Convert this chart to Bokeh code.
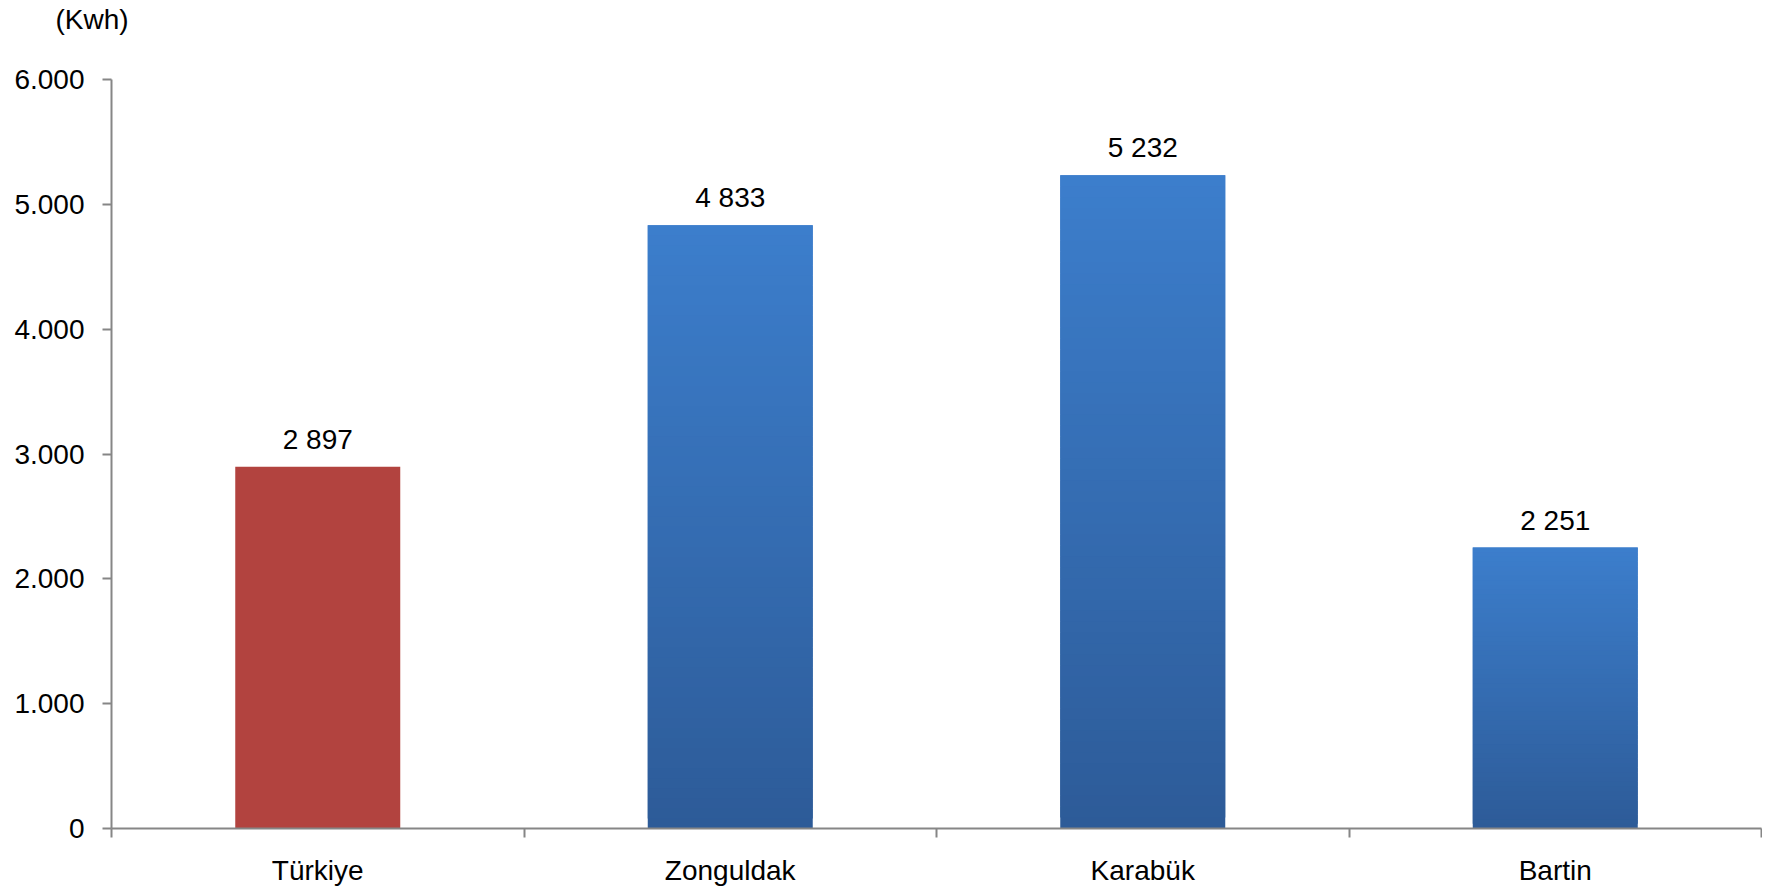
from bokeh.plotting import figure
from bokeh.models import ColumnDataSource, LabelSet, FixedTicker, Range1d, LinearAxis
from bokeh.core.properties import value
from bokeh.embed import file_html
from bokeh.resources import INLINE

categories = ["Türkiye", "Zonguldak", "Karabük", "Bartin"]
values = [2897, 4833, 5232, 2251]
value_labels = ["2 897", "4 833", "5 232", "2 251"]
bar_kind = ["red", "blue", "blue", "blue"]
y_ticks = [0, 1000, 2000, 3000, 4000, 5000, 6000]
y_tick_labels = ["0", "1.000", "2.000", "3.000", "4.000", "5.000", "6.000"]
unit_label = "(Kwh)"

FONT = "Liberation Sans"
RED = "#B2433F"
BLUE_TOP = (0x3C, 0x7E, 0xCC)
BLUE_BOT = (0x2D, 0x5B, 0x98)
AXIS = "#868686"

n = len(categories)
xs = [i + 0.5 for i in range(n)]

p = figure(width=1762, height=888, output_backend="svg", toolbar_location=None,
           x_range=Range1d(0, n), y_range=Range1d(0, 6000),
           min_border_left=111, min_border_right=1, min_border_top=79, min_border_bottom=60,
           title=unit_label)
p.outline_line_color = None
p.xgrid.visible = False
p.ygrid.visible = False
p.title.text_font = FONT
p.title.text_font_size = "28px"
p.title.text_font_style = "normal"
p.title.text_color = "#000000"
p.title.align = "left"
p.title.vertical_align = "bottom"
p.title.offset = -56
p.title.standoff = 0

# invisible spacer axis above the frame (one white tick, no labels): lifts the unit title
spacer = LinearAxis(ticker=FixedTicker(ticks=[xs[0]], minor_ticks=[]), major_tick_out=45,
                    major_tick_in=0, minor_tick_out=0, minor_tick_in=0, axis_line_color=None,
                    major_tick_line_color="#ffffff", minor_tick_line_color=None,
                    major_label_text_color=None, major_label_standoff=0)
p.add_layout(spacer, "above")

# bars with vertical gradient (overlapping stacked segments as fractions of each bar height)
steps = 60
for xi, v, kind in zip(xs, values, bar_kind):
    if kind == "red":
        p.vbar(x=[xi], top=[v], bottom=[0], width=0.4, fill_color=RED, line_color=None)
    else:
        bots, tops, cols = [], [], []
        for s in range(steps):
            bots.append(v * s / steps)
            tops.append(v * min(s + 2, steps) / steps)
            t = (s + 0.5) / steps
            c = tuple(int(round(BLUE_BOT[k] + (BLUE_TOP[k] - BLUE_BOT[k]) * t)) for k in range(3))
            cols.append("#%02x%02x%02x" % c)
        p.vbar(x=[xi] * steps, bottom=bots, top=tops, width=0.4,
               fill_color=cols, line_color=None)

src = ColumnDataSource(dict(x=xs, y=values, t=value_labels))
p.add_layout(LabelSet(x="x", y="y", text="t", source=src, text_align="center",
                      text_baseline="alphabetic", y_offset=18, text_font=value(FONT),
                      text_font_size="28px", text_color="#000000"))

# x axis: labels at category centres, tick marks at category boundaries
xax = p.below[0]
xax.ticker = FixedTicker(ticks=xs, minor_ticks=list(range(n + 1)))
xax.major_label_overrides = {xi: c for xi, c in zip(xs, categories)}
xax.major_tick_out = 0
xax.major_tick_in = 0
xax.minor_tick_out = 9
xax.minor_tick_in = 0
xax.minor_tick_line_color = AXIS
xax.axis_line_color = AXIS
xax.axis_line_width = 2
xax.minor_tick_line_width = 2
xax.major_label_text_font = FONT
xax.major_label_text_font_size = "28px"
xax.major_label_text_color = "#000000"
xax.major_label_standoff = 17

p.yaxis.ticker = FixedTicker(ticks=y_ticks)
p.yaxis.major_label_overrides = {t: l for t, l in zip(y_ticks, y_tick_labels)}
p.yaxis.minor_tick_line_color = None
p.yaxis.major_tick_out = 9
p.yaxis.major_tick_in = 0
p.yaxis.major_tick_line_color = AXIS
p.yaxis.major_tick_line_width = 2
p.yaxis.axis_line_color = AXIS
p.yaxis.axis_line_width = 2
p.yaxis.major_label_text_font = FONT
p.yaxis.major_label_text_font_size = "28px"
p.yaxis.major_label_text_color = "#000000"
p.yaxis.major_label_standoff = 18

open("out.html", "w").write(file_html(p, INLINE))
